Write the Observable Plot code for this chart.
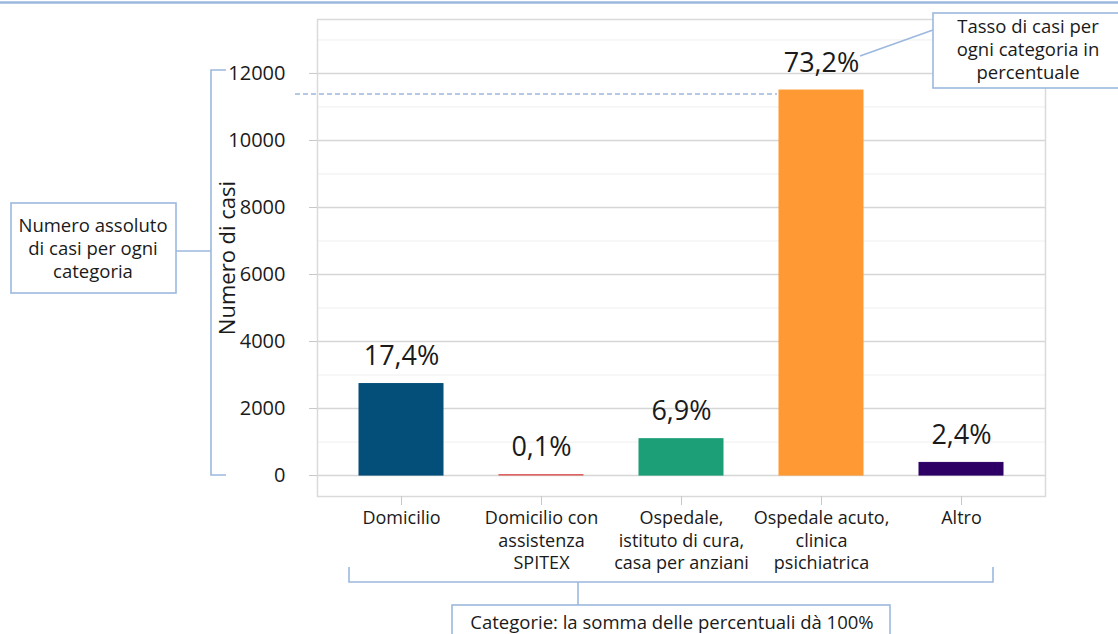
<!DOCTYPE html>
<html><head><meta charset="utf-8">
<script src="https://cdn.jsdelivr.net/npm/d3@7"></script>
<script src="https://cdn.jsdelivr.net/npm/@observablehq/plot@0.6"></script>
<style>body{margin:0;background:#fff} svg{display:block}</style>
</head><body><div id="chart"></div>
<script>
const categories = ["Domicilio","Domicilio con assistenza SPITEX","Ospedale, istituto di cura, casa per anziani","Ospedale acuto, clinica psichiatrica","Altro"];
const tickLabels = ["Domicilio","Domicilio con\nassistenza\nSPITEX","Ospedale,\nistituto di cura,\ncasa per anziani","Ospedale acuto,\nclinica\npsichiatrica","Altro"];
const cases = [2730, 16, 1085, 11490, 377];
const percentLabels = ["17,4%","0,1%","6,9%","73,2%","2,4%"];
const colors = ["#044e7a","#e06060","#1c9e77","#ff9933","#2e0066"];
const yTicks = [0,2000,4000,6000,8000,10000,12000];
const yMinorTicks = [1000,3000,5000,7000,9000,11000,13000];
const data = categories.map((c,i)=>({category:c, cases:cases[i], label:percentLabels[i]}));

const font = "'Open Sans', 'Noto Sans', sans-serif";
const chart = Plot.plot({
  width:1118, height:634,
  marginLeft:317, marginRight:73, marginTop:19, marginBottom:138,
  style:{fontFamily:font, fontSize:"19px", color:"#1a1a1a", background:"#fff", overflow:"visible"},
  x:{domain:categories, paddingInner:0.4, paddingOuter:0.3, label:null},
  y:{domain:[-625,13610], label:null},
  color:{domain:categories, range:colors},
  marks:[
    Plot.ruleY(yMinorTicks,{stroke:"#efefef", strokeWidth:1}),
    Plot.ruleY(yTicks,{stroke:"#d6d6d6", strokeWidth:1.5}),
    Plot.frame({stroke:"#dadada", strokeWidth:1.5}),
    Plot.barY(data,{x:"category", y:"cases", fill:"category", stroke:"category", strokeWidth:1}),
    Plot.text(data,{x:"category", y:"cases", text:"label", dy:-19, lineAnchor:"bottom", fontSize:27, fill:"#1a1a1a"}),
    Plot.axisY({ticks:yTicks, tickSize:8, tickPadding:24, tickFormat:d=>String(d), fontSize:20, stroke:"#c8c8c8"}),
    Plot.axisY({ticks:[], label:"Numero di casi", labelAnchor:"center", labelArrow:"none", labelOffset:98, fontSize:22}),
    Plot.axisX({tickSize:9, tickPadding:3, tickFormat:d=>tickLabels[categories.indexOf(d)], fontSize:18, lineHeight:1.25, stroke:"#c8c8c8"})
  ]
});
document.getElementById("chart").append(chart);

// annotations
const svg = d3.select(chart);
const ac = "#9bb8de";
const g = svg.append("g").attr("fill","none").attr("stroke",ac).attr("stroke-width",1.6);
g.append("line").attr("x1",0).attr("x2",1118).attr("y1",2.5).attr("y2",2.5).attr("stroke-width",2.5);
// left bracket
g.append("path").attr("d","M226,70H211V475H226");
g.append("line").attr("x1",176).attr("x2",211).attr("y1",251).attr("y2",251);
g.append("rect").attr("x",11).attr("y",203).attr("width",165).attr("height",90).attr("fill","#fff");
// dashed reference line
g.append("line").attr("x1",295).attr("x2",777).attr("y1",94).attr("y2",94).attr("stroke-dasharray","5,3").attr("stroke-width",1.4);
// top right box
g.append("line").attr("x1",860).attr("y1",56).attr("x2",933).attr("y2",30);
g.append("rect").attr("x",933).attr("y",13).attr("width",190).attr("height",75).attr("fill","#fff");
// bottom bracket
g.append("path").attr("d","M349,567V582H993V567");
g.append("line").attr("x1",578).attr("x2",578).attr("y1",582).attr("y2",605);
g.append("rect").attr("x",452).attr("y",605).attr("width",438).attr("height",40).attr("fill","#fff");

const t = svg.append("g").attr("font-family",font).attr("fill","#1a1a1a").attr("text-anchor","middle").attr("font-size",18.5);
[["Numero assoluto",226],["di casi per ogni",249],["categoria",272]].forEach(([s,y])=>t.append("text").attr("x",93).attr("y",y).attr("dy","0.35em").text(s));
[["Tasso di casi per",27],["ogni categoria in",50],["percentuale",73]].forEach(([s,y])=>t.append("text").attr("x",1028).attr("y",y).attr("dy","0.35em").text(s));
t.append("text").attr("x",672).attr("y",623).attr("dy","0.35em").text("Categorie: la somma delle percentuali dà 100%");
</script></body></html>
